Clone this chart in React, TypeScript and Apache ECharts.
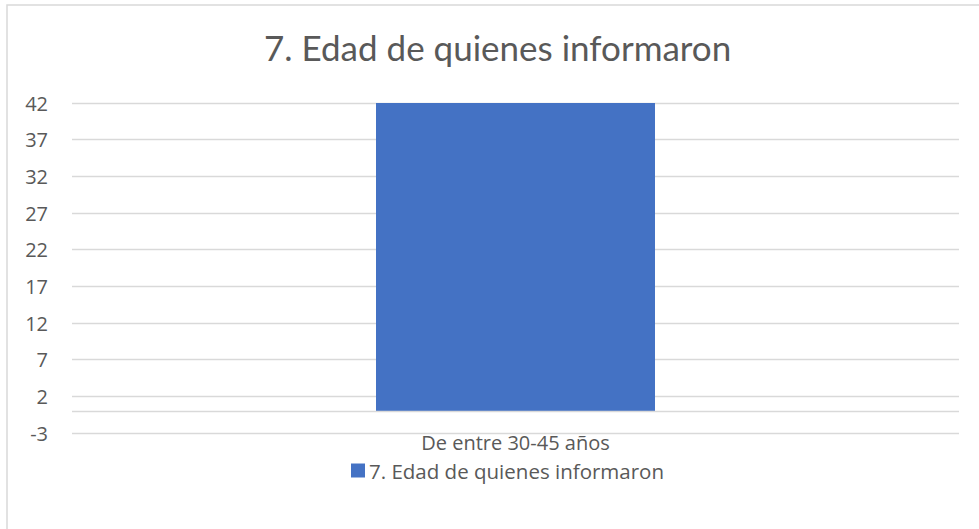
import React, { useEffect, useRef } from "react";
import * as echarts from "echarts";

const categories = ["De entre 30-45 años"];
const seriesName = "7. Edad de quienes informaron";
const values = [42];
const titleText = "7. Edad de quienes informaron";
const yMin = -3;
const yMax = 42;
const yInterval = 5;

export default function App() {
  const ref = useRef<HTMLDivElement>(null);
  useEffect(() => {
    document.body.style.margin = "0";
    const chart = echarts.init(ref.current!, null, { renderer: "svg" });
    const titleFont = "Lato, 'Open Sans', sans-serif";
    const font = "'Open Sans', Lato, sans-serif";
    chart.setOption({
      animation: false,
      backgroundColor: "#ffffff",
      textStyle: { fontFamily: font },
      title: {
        text: titleText,
        left: 259,
        top: 24,
        textStyle: { fontSize: 35, fontWeight: "normal", color: "#595959", fontFamily: titleFont },
      },
      graphic: [
        {
          type: "rect",
          shape: { x: 7, y: 5, width: 1100, height: 700 },
          style: { fill: "none", stroke: "#d9d9d9", lineWidth: 1.5 },
          silent: true,
        },
      ],
      legend: {
        left: 351,
        top: 460,
        padding: 0,
        itemWidth: 14,
        itemHeight: 14,
        itemGap: 10,
        icon: "rect",
        textStyle: {
          fontSize: 20.5,
          lineHeight: 19,
          color: "#595959",
          fontFamily: font,
          padding: [0, 0, 0, -1],
        },
        data: [seriesName],
      },
      grid: { left: 72, right: 20, top: 103, bottom: 96, containLabel: false },
      xAxis: {
        type: "category",
        data: categories,
        axisLine: { show: false, onZero: false },
        axisTick: { show: false },
        axisLabel: { fontSize: 20, lineHeight: 18, color: "#595959", margin: 0, fontFamily: font },
      },
      yAxis: {
        type: "value",
        min: yMin,
        max: yMax,
        interval: yInterval,
        axisLine: { show: false },
        axisTick: { show: false },
        axisLabel: { fontSize: 20, color: "#595959", margin: 24, fontFamily: font },
        splitLine: { lineStyle: { color: "#d9d9d9", width: 1.3 } },
      },
      series: [
        {
          name: seriesName,
          type: "bar",
          data: values,
          barWidth: 279,
          itemStyle: { color: "#4472C4" },
          markLine: {
            silent: true,
            symbol: "none",
            label: { show: false },
            lineStyle: { color: "#d9d9d9", type: "solid", width: 1.3 },
            data: [{ yAxis: 0 }],
          },
        },
      ],
    });
    return () => chart.dispose();
  }, []);
  return <div ref={ref} style={{ width: 979, height: 529 }} />;
}
